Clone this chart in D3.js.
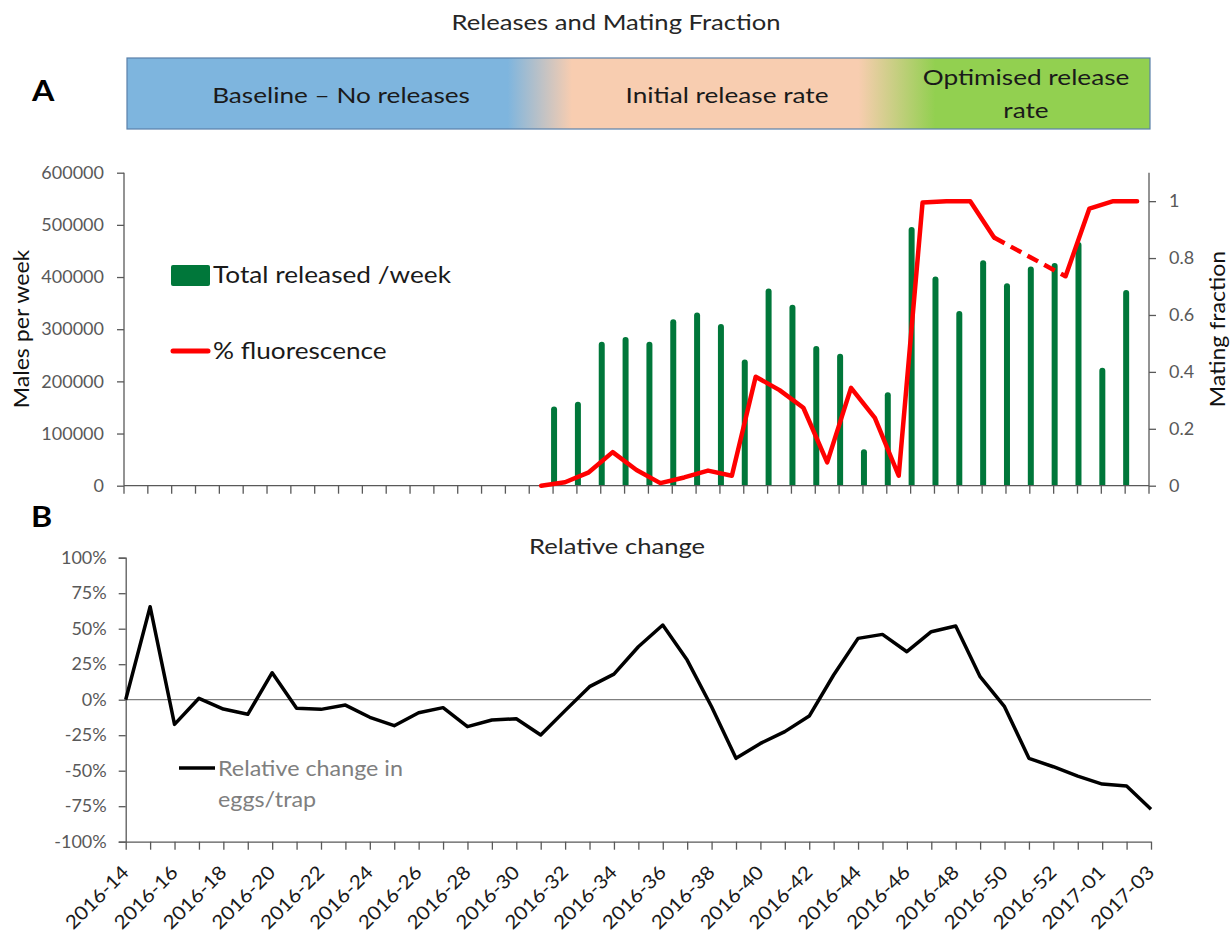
<!DOCTYPE html>
<html>
<head>
<meta charset="utf-8">
<script src="https://cdn.jsdelivr.net/npm/d3@7"></script>
<style>
  body { margin: 0; background: #fff; }
  svg { display: block; font-family: Lato, "Open Sans", sans-serif; }
</style>
</head>
<body>
<svg id="chart" width="1231" height="935"></svg>
<script>
// Weekly releases, mating fraction (panel A) and relative change in eggs/trap (panel B).

const weeks = [
  "2016-14", "2016-15", "2016-16", "2016-17", "2016-18", "2016-19", "2016-20", "2016-21",
  "2016-22", "2016-23", "2016-24", "2016-25", "2016-26", "2016-27", "2016-28", "2016-29",
  "2016-30", "2016-31", "2016-32", "2016-33", "2016-34", "2016-35", "2016-36", "2016-37",
  "2016-38", "2016-39", "2016-40", "2016-41", "2016-42", "2016-43", "2016-44", "2016-45",
  "2016-46", "2016-47", "2016-48", "2016-49", "2016-50", "2016-51", "2016-52", "2016-53",
  "2017-01", "2017-02", "2017-03"
];

// males released per week (null = no releases)
const released = [
  null, null, null, null, null, null, null, null, null, null, null, null, null, null, null, null,
  null, null, 152000, 161000, 276000, 285000, 276000, 319000, 332000, 310000, 242000, 378000,
  347000, 268000, 253000, 70000, 179000, 496000, 401000, 335000, 432000, 388000, 420000, 427000,
  467000, 226000, 375000
];

// mating fraction (% fluorescence); the two missing weeks are bridged with a dashed line
const fluorescence = [
  null, null, null, null, null, null, null, null, null, null, null, null, null, null, null, null,
  null, 0, 0.012, 0.047, 0.118, 0.055, 0.009, 0.029, 0.053, 0.035, 0.383, 0.336,
  0.274, 0.082, 0.344, 0.238, 0.035, 0.995, 1.0, 1.0, 0.872, null, null, 0.736,
  0.974, 1.0, 1.0
];

const relChange = [
  0, 0.655, -0.174, 0.01, -0.066, -0.103, 0.19, -0.061, -0.068, -0.038, -0.124, -0.183,
  -0.092, -0.056, -0.19, -0.143, -0.134, -0.249, -0.077, 0.092, 0.18, 0.373, 0.526, 0.279,
  -0.05, -0.413, -0.308, -0.225, -0.115, 0.174, 0.432, 0.46, 0.338, 0.479, 0.519, 0.162,
  -0.049, -0.413, -0.472, -0.538, -0.594, -0.608, -0.772
];

const malesTicks = [0, 100000, 200000, 300000, 400000, 500000, 600000];
const matingTicks = [0, 0.2, 0.4, 0.6, 0.8, 1];
const changeTicks = [-1, -0.75, -0.5, -0.25, 0, 0.25, 0.5, 0.75, 1];

const phaseLabels = [
  ["Baseline \u2013 No releases"],
  ["Initial release rate"],
  ["Optimised release", "rate"]
];

const svg = d3.select("#chart");
const axisGray = "#595959";
const barGreen = "#00773a";

// The original typeface runs a little wider than Lato, so labels get a horizontal stretch.
function label(x, y, str, o = {}) {
  const rot = o.rotate ? ` rotate(${o.rotate})` : "";
  return svg.append("text")
    .attr("transform", `translate(${x},${y})${rot} scale(${o.sx || 1},1)`)
    .attr("text-anchor", o.anchor || "start")
    .attr("font-size", o.size || 20)
    .attr("font-weight", o.weight || 400)
    .attr("fill", o.fill || "#1a1a1a")
    .text(str);
}

label(616, 30, "Releases and Mating Fraction", { anchor: "middle", size: 21, sx: 1.22, fill: "#262626" });

// ---- phase banner ----
const defs = svg.append("defs");
const grad = defs.append("linearGradient").attr("id", "phaseGrad")
  .attr("x1", 0).attr("x2", 1).attr("y1", 0).attr("y2", 0);
[[0, "#7eb5de"], [0.372, "#7eb5de"], [0.435, "#f8cdb0"], [0.715, "#f8cdb0"],
 [0.79, "#92d050"], [1, "#92d050"]].forEach(s => {
  grad.append("stop").attr("offset", s[0]).attr("stop-color", s[1]);
});

svg.append("rect")
  .attr("x", 127).attr("y", 58).attr("width", 1023).attr("height", 71)
  .attr("fill", "url(#phaseGrad)")
  .attr("stroke", "#5a80aa").attr("stroke-width", 1.2);

const phaseX = [341, 727, 1026];
phaseLabels.forEach((lines, i) => {
  lines.forEach((ln, j) => {
    label(phaseX[i], lines.length === 1 ? 103 : 85 + j * 33, ln,
      { anchor: "middle", size: 22, sx: 1.19 });
  });
});

label(32, 101, "A", { size: 28, weight: 700, sx: 1.15, fill: "#000" });
label(31, 527, "B", { size: 28, weight: 700, sx: 1.15, fill: "#000" });

// ---- panel A ----
const xA = d3.scaleBand().domain(weeks).range([124, 1149]);
const yL = d3.scaleLinear().domain([0, 600000]).range([485.7, 172.7]);
const yR = d3.scaleLinear().domain([0, 1.1]).range([485.7, 172.7]);

defs.append("clipPath").attr("id", "clipA")
  .append("rect").attr("x", 124).attr("y", 150).attr("width", 1025).attr("height", 335.7);

const barData = weeks.map((w, i) => ({ w, v: released[i] })).filter(d => d.v != null);
svg.append("g").attr("clip-path", "url(#clipA)")
  .selectAll("rect")
  .data(barData)
  .join("rect")
  .attr("x", d => xA(d.w) - 2)
  .attr("width", 6)
  .attr("y", d => yL(d.v))
  .attr("height", d => yL(0) - yL(d.v) + 6)
  .attr("rx", 3)
  .attr("fill", barGreen);

// axes A
const axL = svg.append("g").attr("transform", "translate(124,0)")
  .call(d3.axisLeft(yL).tickValues(malesTicks).tickSize(7).tickPadding(13)
    .tickFormat(d3.format("d")));
const axR = svg.append("g").attr("transform", "translate(1149,0)")
  .call(d3.axisRight(yR).tickValues(matingTicks).tickSize(7).tickPadding(13)
    .tickFormat(d => String(d)));
[axL, axR].forEach(a => {
  a.select(".domain").attr("d", `M0,${yL(600000)}V${yL(0)}`);
  a.selectAll(".domain, .tick line").attr("stroke", axisGray).attr("stroke-width", 1.3);
  a.selectAll("text").attr("fill", axisGray).attr("font-size", 18).attr("font-family", "Lato");
});

const edgesA = weeks.map(w => xA(w)).concat([xA.range()[1]]);
const axB_A = svg.append("g");
axB_A.append("line")
  .attr("x1", xA.range()[0]).attr("x2", xA.range()[1])
  .attr("y1", yL(0)).attr("y2", yL(0))
  .attr("stroke", axisGray).attr("stroke-width", 1.3);
axB_A.selectAll(".tk").data(edgesA).join("line")
  .attr("class", "tk")
  .attr("x1", d => d).attr("x2", d => d)
  .attr("y1", yL(0)).attr("y2", yL(0) + 8)
  .attr("stroke", axisGray).attr("stroke-width", 1.3);

// mating fraction line
const fluoPts = weeks.map((w, i) => ({ x: xA(w) + xA.bandwidth() / 2, v: fluorescence[i] }));
const fluoLine = d3.line().defined(d => d.v != null).x(d => d.x).y(d => yR(d.v));
svg.append("path")
  .attr("d", fluoLine(fluoPts))
  .attr("fill", "none")
  .attr("stroke", "#ff0000")
  .attr("stroke-width", 4.5)
  .attr("stroke-linejoin", "round")
  .attr("stroke-linecap", "round");

// dashed bridges over missing weeks
const gaps = [];
fluoPts.forEach((p, i) => {
  if (p.v == null && i > 0 && fluoPts[i - 1].v != null) {
    let j = i;
    while (j < fluoPts.length && fluoPts[j].v == null) j++;
    if (j < fluoPts.length) gaps.push([fluoPts[i - 1], fluoPts[j]]);
  }
});
svg.selectAll(".gap").data(gaps).join("path")
  .attr("class", "gap")
  .attr("d", d => d3.line().x(p => p.x).y(p => yR(p.v))(d))
  .attr("fill", "none")
  .attr("stroke", "#ff0000")
  .attr("stroke-width", 4.5)
  .attr("stroke-dasharray", "12,7");

label(29, 329, "Males per week", { anchor: "middle", size: 21, sx: 1.1, rotate: -90, fill: "#111" });
label(1225, 329, "Mating fraction", { anchor: "middle", size: 21, sx: 1.1, rotate: -90, fill: "#111" });

// legend A
svg.append("rect").attr("x", 171).attr("y", 265).attr("width", 39).attr("height", 21)
  .attr("rx", 2).attr("fill", barGreen);
label(213, 283, "Total released /week", { size: 23, sx: 1.14 });
svg.append("line").attr("x1", 173).attr("x2", 208).attr("y1", 351).attr("y2", 351)
  .attr("stroke", "#ff0000").attr("stroke-width", 5).attr("stroke-linecap", "round");
label(213, 359, "% fluorescence", { size: 23, sx: 1.14 });

// ---- panel B ----
const xB = d3.scalePoint().domain(weeks).range([125.7, 1151]);
const yB = d3.scaleLinear().domain([-1, 1]).range([841.7, 557.7]);

label(617, 554, "Relative change", { anchor: "middle", size: 21, sx: 1.22, fill: "#262626" });

svg.append("line")
  .attr("x1", xB.range()[0]).attr("x2", xB.range()[1])
  .attr("y1", yB(0)).attr("y2", yB(0))
  .attr("stroke", "#7f7f7f").attr("stroke-width", 1.2);

const axBL = svg.append("g").attr("transform", "translate(125.7,0)")
  .call(d3.axisLeft(yB).tickValues(changeTicks).tickSize(7).tickPadding(12)
    .tickFormat(d => Math.round(d * 100) + "%"));
axBL.selectAll(".domain, .tick line").attr("stroke", axisGray).attr("stroke-width", 1.3);
axBL.selectAll("text").attr("fill", axisGray).attr("font-size", 18).attr("font-family", "Lato");

const axBB = svg.append("g").attr("transform", `translate(0,${yB(-1)})`)
  .call(d3.axisBottom(xB).tickSize(8).tickSizeOuter(0)
    .tickFormat((d, i) => i % 2 === 0 ? d : ""));
axBB.selectAll(".domain, .tick line").attr("stroke", axisGray).attr("stroke-width", 1.3);
axBB.selectAll("text")
  .attr("font-size", 19)
  .attr("font-family", "Lato")
  .attr("fill", "#1a1a1a")
  .attr("text-anchor", "end")
  .attr("dy", null)
  .attr("y", null)
  .attr("transform", "translate(4,32) rotate(-45) scale(1.1,1)");

svg.append("path")
  .attr("d", d3.line().x((d, i) => xB(weeks[i])).y(d => yB(d))(relChange))
  .attr("fill", "none")
  .attr("stroke", "#000")
  .attr("stroke-width", 3.5)
  .attr("stroke-linejoin", "round");

// legend B
svg.append("line").attr("x1", 179).attr("x2", 215).attr("y1", 768).attr("y2", 768)
  .attr("stroke", "#000").attr("stroke-width", 3.5);
label(218, 776, "Relative change in", { size: 22, sx: 1.06, fill: "#7f7f7f" });
label(218, 807, "eggs/trap", { size: 22, sx: 1.06, fill: "#7f7f7f" });
</script>
</body>
</html>
